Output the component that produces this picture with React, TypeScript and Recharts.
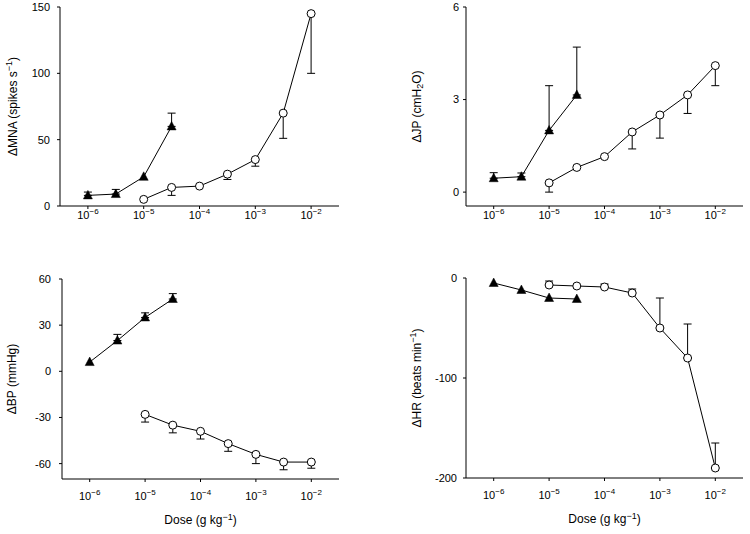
import React from 'react';
import { LineChart, Line, XAxis, YAxis, ErrorBar, Label } from 'recharts';

// log10 dose (g kg-1)
const triDoses = [-6, -5.5, -5, -4.5];
const circDoses = [-5, -4.5, -4, -3.5, -3, -2.5, -2];
const doseTicks = [-6, -5, -4, -3, -2];

// ΔMNA (spikes s-1)
const mnaTri = [8, 9, 22, 60];
const mnaTriErr = [2.5, 3.5, null, 10];
const mnaCirc = [5, 14, 15, 24, 35, 70, 145];
const mnaCircErr = [null, 6, null, 4, 5, 19, 45];

// ΔJP (cmH2O)
const jpTri = [0.45, 0.5, 2.0, 3.15];
const jpTriErr = [0.18, 0.12, 1.45, 1.55];
const jpCirc = [0.3, 0.8, 1.15, 1.95, 2.5, 3.15, 4.1];
const jpCircErr = [0.3, null, null, 0.55, 0.75, 0.6, 0.65];

// ΔBP (mmHg)
const bpTri = [6, 20, 35, 47];
const bpTriErr = [null, 4, 3, 3.5];
const bpCirc = [-28, -35, -39, -47, -54, -59, -59];
const bpCircErr = [5, 5, 5, 5, 6, 5, 4];

// ΔHR (beats min-1)
const hrTri = [-5, -12, -20, -21];
const hrTriErr = [null, null, null, null];
const hrCirc = [-7, -8, -9, -15, -50, -80, -190];
const hrCircErr = [4, null, 3, 4, 30, 34, 25];

const FONT = '"Liberation Sans", Arial, Helvetica, sans-serif';

type Err = number | null;

const build = (doses: number[], vals: number[], errs: Err[], dir: 'up' | 'down') =>
  doses.map((d, i) => {
    const e = errs[i];
    return { x: d, y: vals[i], err: e == null ? null : dir === 'up' ? [0, e] : [e, 0] };
  });

const Triangle = (props: any) => {
  const { cx, cy } = props;
  if (cx == null || cy == null) return <g />;
  return <path d={`M${cx},${cy - 5} L${cx + 4.5},${cy + 3.5} L${cx - 4.5},${cy + 3.5} Z`} fill="#000" stroke="#000" strokeWidth={0.5} />;
};

const DoseTick = ({ x, y, payload, dy }: any) => (
  <text x={x} y={y + dy} textAnchor="middle" fontSize={11} fill="#000" fontFamily={FONT}>
    10<tspan dy={-5} fontSize={8}>{`−${-payload.value}`}</tspan>
  </text>
);

type PanelProps = {
  left: number;
  top: number;
  height: number;
  margin: { top: number; right: number; bottom: number; left: number };
  xAxisHeight: number;
  tickDy: number;
  yDomain: [number, number];
  yTicks: number[];
  yTickMargin: number;
  labelX: number;
  yLabel: React.ReactNode;
  showDose: boolean;
  tri: any[];
  circ: any[];
};

const Panel: React.FC<PanelProps> = (p) => (
  <div style={{ position: 'absolute', left: p.left, top: p.top }}>
    <LineChart width={375} height={p.height} margin={p.margin}>
      <XAxis
        type="number"
        dataKey="x"
        domain={[-6.5, -1.5]}
        ticks={doseTicks}
        allowDataOverflow
        height={p.xAxisHeight}
        stroke="#000"
        tickSize={3}
        tickMargin={0}
        tick={(t: any) => <DoseTick {...t} dy={p.tickDy} />}
      >
        {p.showDose && (
          <Label
            content={({ viewBox }: any) => (
              <text x={viewBox.x + viewBox.width / 2} y={viewBox.y + 45} textAnchor="middle" fontSize={12} fill="#000" fontFamily={FONT}>
                Dose (g kg<tspan dy={-4} fontSize={9}>−1</tspan><tspan dy={4}>)</tspan>
              </text>
            )}
          />
        )}
      </XAxis>
      <YAxis
        type="number"
        domain={p.yDomain}
        ticks={p.yTicks}
        allowDataOverflow
        width={60}
        stroke="#000"
        tickSize={3}
        tickMargin={p.yTickMargin}
        tick={{ fontSize: 11, fill: '#000', fontFamily: FONT }}
      >
        <Label
          content={({ viewBox }: any) => {
            const cy = viewBox.y + viewBox.height / 2;
            return (
              <text x={p.labelX} y={cy} transform={`rotate(-90 ${p.labelX} ${cy})`} textAnchor="middle" dominantBaseline="central" fontSize={12} fill="#000" fontFamily={FONT}>
                {p.yLabel}
              </text>
            );
          }}
        />
      </YAxis>
      <Line data={p.tri} dataKey="y" stroke="#000" strokeWidth={1} dot={<Triangle />} activeDot={false} isAnimationActive={false}>
        <ErrorBar dataKey="err" direction="y" width={4} stroke="#000" strokeWidth={1} />
      </Line>
      <Line data={p.circ} dataKey="y" stroke="#000" strokeWidth={1} dot={{ r: 4, fill: '#fff', stroke: '#000', strokeWidth: 1 }} activeDot={false} isAnimationActive={false}>
        <ErrorBar dataKey="err" direction="y" width={4} stroke="#000" strokeWidth={1} />
      </Line>
    </LineChart>
  </div>
);

const App: React.FC = () => (
  <div style={{ position: 'absolute', left: 0, top: 0, width: 750, height: 534, background: '#fff' }}>
    <Panel
      left={0}
      top={0}
      height={260}
      margin={{ top: 7, right: 36, bottom: 24, left: 0 }}
      xAxisHeight={30}
      tickDy={10}
      yDomain={[0, 150]}
      yTicks={[0, 50, 100, 150]}
      yTickMargin={7}
      labelX={13}
      yLabel={<>ΔMNA (spikes s<tspan dy={-4} fontSize={9}>−1</tspan><tspan dy={4}>)</tspan></>}
      showDose={false}
      tri={build(triDoses, mnaTri, mnaTriErr, 'up')}
      circ={build(circDoses, mnaCirc, mnaCircErr, 'down')}
    />
    <Panel
      left={375}
      top={0}
      height={260}
      margin={{ top: 7, right: 7, bottom: 24, left: 31 }}
      xAxisHeight={30}
      tickDy={10}
      yDomain={[-0.45, 6]}
      yTicks={[0, 3, 6]}
      yTickMargin={4}
      labelX={42}
      yLabel={<>ΔJP (cmH<tspan dy={3} fontSize={9}>2</tspan><tspan dy={-3}>O)</tspan></>}
      showDose={false}
      tri={build(triDoses, jpTri, jpTriErr, 'up')}
      circ={build(circDoses, jpCirc, jpCircErr, 'down')}
    />
    <Panel
      left={0}
      top={260}
      height={274}
      margin={{ top: 19, right: 36, bottom: 5, left: 2 }}
      xAxisHeight={50}
      tickDy={18}
      yDomain={[-70, 60]}
      yTicks={[-60, -30, 0, 30, 60]}
      yTickMargin={8}
      labelX={12}
      yLabel={<>ΔBP (mmHg)</>}
      showDose
      tri={build(triDoses, bpTri, bpTriErr, 'up')}
      circ={build(circDoses, bpCirc, bpCircErr, 'down')}
    />
    <Panel
      left={375}
      top={260}
      height={274}
      margin={{ top: 18, right: 7, bottom: 6, left: 31 }}
      xAxisHeight={50}
      tickDy={18}
      yDomain={[-200, 0]}
      yTicks={[-200, -100, 0]}
      yTickMargin={6}
      labelX={42}
      yLabel={<>ΔHR (beats min<tspan dy={-4} fontSize={9}>−1</tspan><tspan dy={4}>)</tspan></>}
      showDose
      tri={build(triDoses, hrTri, hrTriErr, 'up')}
      circ={build(circDoses, hrCirc, hrCircErr, 'up')}
    />
  </div>
);

export default App;
